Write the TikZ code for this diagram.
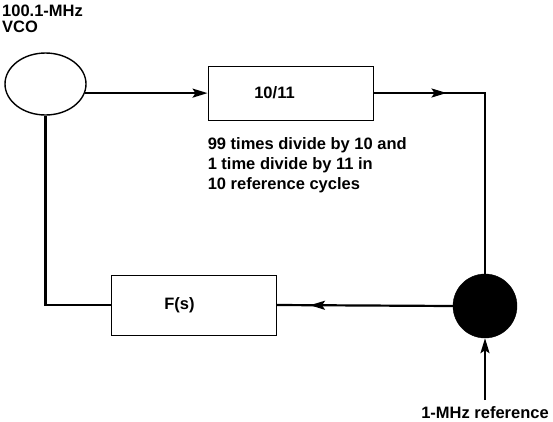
\documentclass[tikz,border=0pt]{standalone}
\usepackage{fontspec}
\setmainfont{Liberation Sans}
\usetikzlibrary{arrows.meta,calc,positioning,shapes.geometric,decorations.markings}
\tikzset{
    myblock/.style={rectangle,draw=black,line width=0.9pt,inner sep=0pt,minimum width=165pt},
    myvco/.style={ellipse,draw=black,line width=1.4pt,inner sep=0pt,minimum width=81pt,minimum height=62pt},
    mydot/.style={circle,fill=black,draw=black,inner sep=0pt,minimum size=64pt},
    myedge/.style={line width=2.2pt,draw=black},
    mytip/.style={-{Stealth[length=15pt,width=9pt,inset=3pt]}},
    midtip/.style={postaction={decorate},
      decoration={markings,mark=at position #1 with {\arrow{Stealth[length=15pt,width=9pt,inset=3pt]}}}},
    mynote/.style={align=left,inner sep=0pt},
    every node/.style={font=\bfseries\fontsize{16.5}{20}\selectfont}
}
\begin{document}
\begin{tikzpicture}[x=1pt,y=-1pt]
  \useasboundingbox (0,0) rectangle (553,421);

  % blocks of the loop
  \node[myvco] (vco) at (45.5,84) {};
  \node[myblock,minimum height=54pt] (div) at (290.5,93) {10/11\hspace*{32pt}};
  \node[myblock,minimum height=60pt] (fs) at (193.5,305) {F(s)\hspace*{28pt}};
  \node[mydot] (pd) at (485,306) {};
  \coordinate (refin) at (485,400);

  % labels
  \node[mynote,anchor=north west,font=\bfseries\fontsize{16.5}{15.5}\selectfont]
    (vcolabel) at (2,5) {100.1-MHz\\VCO};
  \node[mynote,below right=17pt and 0pt of div.south west]
    (divnote) {99 times divide by 10 and\\1 time divide by 11 in\\10 reference cycles};
  \node[inner sep=0pt,below=6.5pt of refin] (reflabel) {1-MHz reference};

  % connectors
  \draw[myedge,mytip] (vco.-13) -- (vco.-13 -| div.west);
  \draw[myedge,midtip=0.25] (div.east) -- (div.east -| pd) -- (pd.north);
  \draw[myedge,midtip=0.81] (pd.west) -- (fs.east);
  \draw[myedge] (fs.west) -| (vco.south);
  \draw[myedge,mytip] (refin) -- (pd.south);

\end{tikzpicture}
\end{document}
